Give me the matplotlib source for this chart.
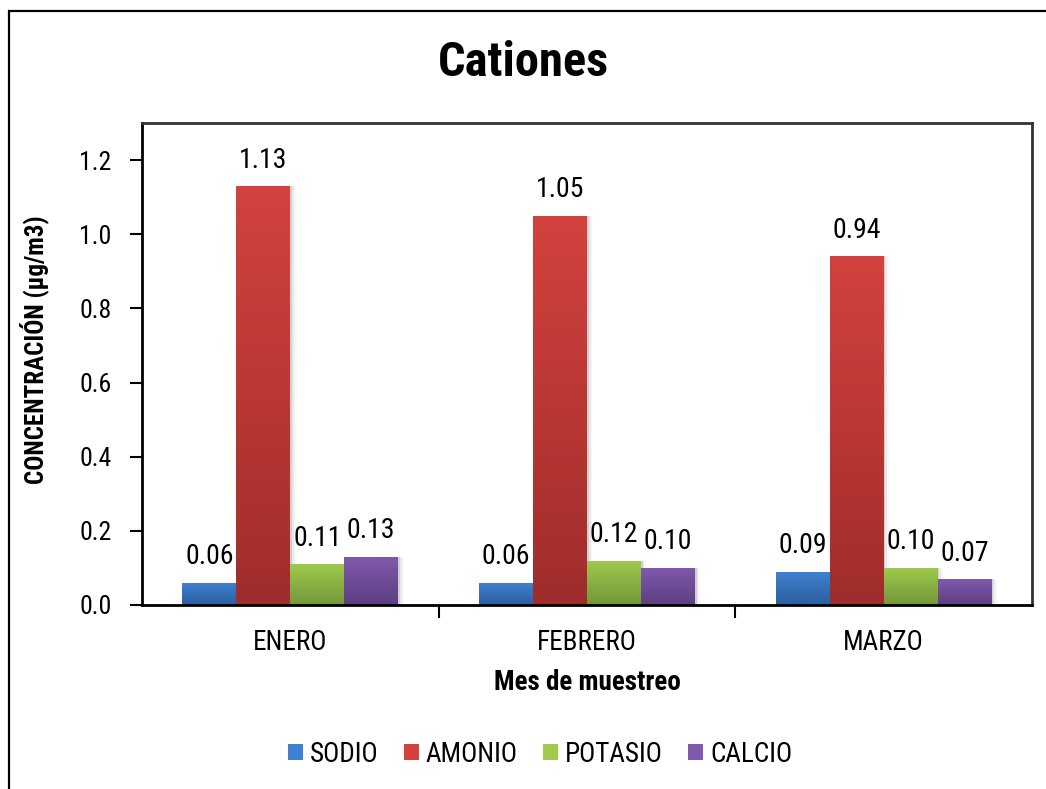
import matplotlib.pyplot as plt
import numpy as np
from matplotlib.patches import Patch, Rectangle
from matplotlib.colors import LinearSegmentedColormap

meses = ['ENERO', 'FEBRERO', 'MARZO']
cationes = ['SODIO', 'AMONIO', 'POTASIO', 'CALCIO']
sodio = [0.06, 0.06, 0.09]
amonio = [1.13, 1.05, 0.94]
potasio = [0.11, 0.12, 0.10]
calcio = [0.13, 0.10, 0.07]
series = [sodio, amonio, potasio, calcio]

# (top colour, bottom colour) for the bar gradients
colores = [('#3f82d3', '#2c5f9f'),
           ('#d3423e', '#9f2d2b'),
           ('#9fca4c', '#74963a'),
           ('#8159ad', '#5d3f80')]

plt.rcParams['font.family'] = ['Roboto Condensed', 'PT Sans Narrow',
                               'Liberation Sans', 'DejaVu Sans']

fig = plt.figure(figsize=(10.46, 7.89), dpi=100)
W, H = 1046, 789
ax = fig.add_axes([142 / W, 1 - 605 / H, (1032 - 142) / W, (605 - 123) / H])

# outer chart frame, running off the right and bottom edges
fig.patches.append(Rectangle((9 / W, -0.05), 1.1, 1 - 11 / H + 0.05,
                             transform=fig.transFigure, fill=False,
                             edgecolor='black', linewidth=1.6, zorder=0))

ancho = 1 / 5.5
x = np.arange(len(meses))
grad = np.linspace(0, 1, 256).reshape(-1, 1)

for i, vals in enumerate(series):
    cmap = LinearSegmentedColormap.from_list('g%d' % i, [colores[i][1], colores[i][0]])
    for j, v in enumerate(vals):
        x0 = x[j] + (i - 1.5) * ancho - ancho / 2
        # soft shadow to the right of each bar
        for k, a in enumerate([0.10, 0.06, 0.03]):
            ax.add_patch(Rectangle((x0 + ancho, 0), 0.006 * (k + 1), v,
                                   facecolor='black', alpha=a, linewidth=0, zorder=1))
        bar = ax.bar(x0, v, width=ancho, align='edge', color='none', linewidth=0, zorder=2)[0]
        im = ax.imshow(grad, cmap=cmap, origin='lower', aspect='auto',
                       extent=[x0, x0 + ancho, 0, v], zorder=2)
        im.set_clip_path(bar)
        ax.annotate('%.2f' % v, (x0 + ancho / 2, v), xytext=(0, 9),
                    textcoords='offset points', ha='center', va='bottom', fontsize=20)

ax.set_xlim(-0.5, 2.5)
ax.set_ylim(0, 1.3)
ax.set_yticks(np.arange(0, 1.21, 0.2))
ax.set_yticklabels(['%.1f' % t for t in np.arange(0, 1.21, 0.2)])
ax.set_xticks(x)
ax.set_xticklabels(meses)
ax.set_xticks([0.5, 1.5], minor=True)
ax.tick_params(axis='x', which='major', length=0, labelsize=19.5, pad=17)
ax.tick_params(axis='x', which='minor', length=9, width=1.5)
ax.tick_params(axis='y', length=9, width=1.5, labelsize=18.5, pad=13)

for s in ['left', 'bottom']:
    ax.spines[s].set_linewidth(2)
    ax.spines[s].set_color('black')
for s in ['top', 'right']:
    ax.spines[s].set_linewidth(2)
    ax.spines[s].set_color('#333333')
ax.spines['bottom'].set_zorder(5)

ax.set_xlabel('Mes de muestreo', fontsize=19.5, fontweight='bold', labelpad=10)
ax.set_ylabel('CONCENTRACIÓN (µg/m3)', fontsize=18, fontweight='bold')
ax.yaxis.set_label_coords((49 - 142) / 890, (605 - 350) / 482)
fig.text(0.5, 1 - 63 / H, 'Cationes', ha='center', va='center',
         fontsize=35, fontweight='bold')

handles = [Patch(facecolor=c[0], edgecolor='none') for c in colores]
fig.legend(handles, cationes, loc='center', bbox_to_anchor=(540 / W, 1 - 754 / H),
           ncol=4, frameon=False, fontsize=19.5, handlelength=0.55, handleheight=0.55,
           handletextpad=0.25, columnspacing=0.95)

fig.savefig('out.png', dpi=100)
